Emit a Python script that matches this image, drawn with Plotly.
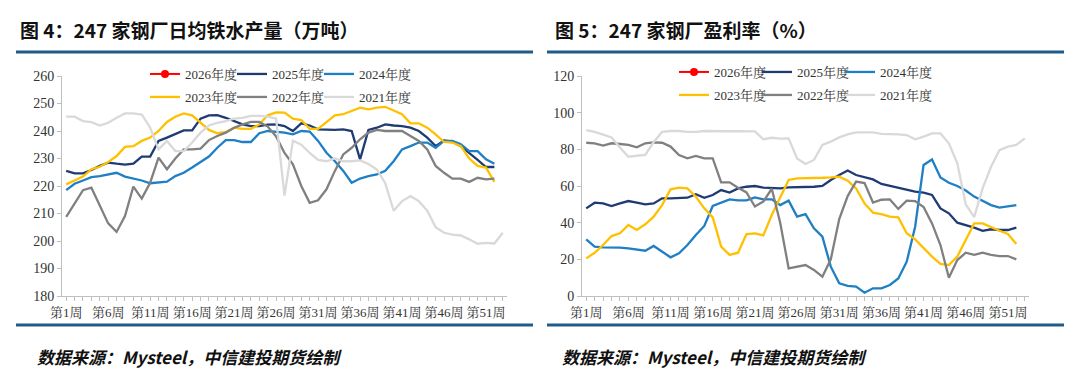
import plotly.graph_objects as go

weeks = list(range(1, 54))
week_ticktext = [f"第{w}周" if (w - 1) % 5 == 0 else "" for w in weeks]

series_names = ["2026年度", "2025年度", "2024年度", "2023年度", "2022年度", "2021年度"]

# 图4: 247家钢厂日均铁水产量（万吨）
iron_2026 = [None]
iron_2025 = [225.5, 224.6, 224.6, 225.8, 227.3, 228.5, 228.1, 227.8, 228.1, 230.7,
             230.7, 236.4, 237.6, 238.8, 240.2, 240.2, 244.5, 245.7, 245.8, 244.8,
             243.6, 242.4, 241.8, 241.8, 242.3, 242.4, 241.8, 240.0, 242.8, 242.0,
             240.6, 240.4, 240.4, 240.6, 240.0, 229.7, 240.4, 241.2, 242.4, 242.0,
             241.8, 241.2, 240.0, 237.6, 234.5, 236.6, 236.1, 234.5, 232.1, 229.5,
             226.9, 226.9]
iron_2024 = [218.5, 220.8, 222.0, 223.2, 223.6, 224.2, 224.8, 223.4, 222.7, 222.0,
             221.0, 221.2, 221.6, 223.6, 224.8, 226.7, 228.7, 230.7, 233.9, 236.7,
             236.7, 236.0, 236.0, 239.2, 240.0, 239.7, 239.4, 238.8, 240.0, 239.8,
             236.4, 232.1, 229.0, 225.5, 221.2, 222.7, 223.6, 224.2, 225.5, 229.0,
             233.3, 234.5, 235.8, 235.8, 233.9, 236.4, 236.4, 235.2, 232.7, 232.7,
             229.7, 228.1]
iron_2023 = [220.6, 222.0, 223.4, 226.1, 227.0, 228.7, 230.9, 234.2, 234.5, 236.4,
             237.6, 240.0, 243.3, 245.2, 246.4, 245.7, 243.0, 240.4, 239.2, 239.6,
             241.2, 240.8, 240.8, 242.4, 245.7, 246.8, 246.7, 244.5, 244.0, 240.8,
             240.8, 243.3, 245.7, 246.1, 247.3, 248.5, 247.9, 248.5, 248.8, 247.3,
             246.1, 242.8, 242.8, 241.2, 238.8, 236.0, 235.8, 234.5, 230.0, 227.3,
             226.7, 221.5]
iron_2022 = [208.8, 213.9, 218.5, 219.4, 212.7, 206.4, 203.3, 209.1, 219.8, 215.4,
             221.2, 230.3, 226.1, 230.0, 233.3, 233.3, 233.6, 236.7, 238.2, 239.4,
             241.2, 242.4, 243.3, 243.3, 241.6, 238.0, 232.0, 227.9, 220.0, 213.9,
             214.8, 218.8, 225.5, 231.5, 233.9, 237.0, 239.4, 240.4, 240.0, 240.0,
             240.0, 238.2, 236.4, 233.3, 227.3, 224.8, 222.7, 222.7, 221.5, 223.0,
             222.4, 222.7]
iron_2021 = [245.2, 245.2, 243.6, 243.2, 242.0, 243.0, 244.8, 246.4, 246.4, 246.0,
             241.2, 233.3, 236.4, 232.7, 232.7, 235.8, 239.4, 242.0, 243.0, 243.6,
             244.5, 244.8, 245.5, 245.5, 245.2, 244.5, 216.5, 236.5, 235.0, 232.0,
             229.5, 229.0, 230.0, 229.0, 229.0, 229.3, 228.0, 226.0, 221.0, 211.0,
             214.5, 216.3, 214.5, 211.0, 205.0, 203.0, 202.3, 202.0, 200.6, 199.0,
             199.3, 199.1, 203.0]

# 图5: 247家钢厂盈利率（%）
profit_2026 = [None]
profit_2025 = [47.8, 50.9, 50.5, 49.1, 50.5, 51.8, 50.9, 50.0, 50.5, 53.3,
               53.3, 53.3, 53.6, 55.5, 53.6, 55.1, 57.8, 56.4, 58.7, 59.6,
               60.0, 59.1, 58.7, 58.7, 59.3, 59.3, 59.6, 59.6, 60.0, 63.3,
               66.0, 68.4, 66.0, 64.7, 63.6, 61.1, 60.0, 58.7, 57.8, 56.9,
               56.4, 55.1, 47.8, 45.1, 40.0, 38.7, 37.3, 35.5, 36.4, 36.0,
               36.0, 37.3]
profit_2024 = [30.9, 26.9, 26.5, 26.5, 26.4, 26.0, 25.5, 24.7, 27.3, 24.2,
               21.1, 23.3, 27.8, 33.3, 38.2, 49.1, 50.9, 52.7, 52.2, 52.2,
               53.8, 52.7, 52.7, 49.6, 52.0, 43.3, 44.7, 36.9, 32.4, 16.0,
               6.9, 5.5, 5.1, 1.8, 4.2, 4.2, 6.0, 9.6, 18.7, 37.8,
               71.5, 74.5, 64.7, 61.8, 60.0, 57.5, 54.2, 51.8, 49.6, 48.2,
               48.7, 49.6]
profit_2023 = [20.5, 23.6, 27.8, 32.7, 34.2, 38.7, 36.0, 39.1, 43.3, 49.6,
               58.2, 59.1, 58.7, 54.2, 47.8, 42.9, 26.9, 22.4, 23.6, 33.8,
               34.2, 33.1, 44.2, 54.2, 63.3, 64.2, 64.2, 64.2, 64.5, 64.7,
               65.1, 62.9, 58.7, 50.5, 45.5, 44.7, 43.3, 42.9, 34.2, 30.9,
               26.0, 21.5, 17.5, 16.9, 21.5, 30.5, 39.6, 39.6, 37.5, 35.6,
               33.8, 28.4]
profit_2022 = [83.6, 83.3, 82.0, 83.3, 82.9, 82.4, 81.1, 83.3, 83.8, 83.6,
               81.5, 76.9, 75.1, 76.4, 75.1, 75.1, 62.0, 62.0, 59.0, 56.5,
               48.8, 51.5, 58.5, 40.0, 15.1, 16.0, 16.9, 14.2, 10.5, 20.0,
               42.0, 54.5, 62.4, 61.6, 51.0, 52.5, 52.7, 47.5, 52.0, 51.8,
               48.5, 39.6, 27.8, 10.0, 19.6, 23.6, 22.4, 23.6, 22.4, 21.8,
               21.8, 20.0]
profit_2021 = [90.5, 89.5, 88.0, 86.5, 81.0, 76.0, 76.5, 77.0, 84.0, 89.5,
               90.0, 90.0, 89.5, 89.5, 90.0, 90.0, 89.8, 89.8, 89.8, 89.8,
               89.8, 85.5, 86.3, 85.8, 86.0, 75.0, 72.0, 74.2, 82.4, 84.2,
               86.5, 88.2, 89.3, 89.3, 89.3, 88.4, 88.4, 88.2, 87.8, 85.5,
               86.9, 88.7, 88.7, 83.3, 72.4, 50.0, 43.0, 58.7, 70.5, 79.6,
               81.5, 82.4, 86.0]

colors = ["#ff0000", "#1f3b73", "#1f7fc4", "#ffc000", "#808080", "#d9d9d9"]

W, H = 1080, 391
SERIF = "Liberation Serif, Noto Serif CJK SC, Noto Sans CJK SC, serif"
CJK = "Noto Sans CJK SC, sans-serif"

fig = go.Figure()

panels = [
    ("x", "y", [iron_2026, iron_2025, iron_2024, iron_2023, iron_2022, iron_2021], ("legend", "legend2")),
    ("x2", "y2", [profit_2026, profit_2025, profit_2024, profit_2023, profit_2022, profit_2021], ("legend3", "legend4")),
]

for xa, ya, data, (lg1, lg2) in panels:
    for i, (name, vals, col) in enumerate(zip(series_names, data, colors)):
        lg = lg1 if i < 3 else lg2
        extra = {}
        if i in (2, 5):
            extra["legendwidth"] = 62
        if i == 0:
            fig.add_trace(go.Scatter(
                x=weeks[:len(vals)], y=vals, name=name, mode="lines+markers",
                line=dict(color=col, width=2), marker=dict(color=col, size=8),
                xaxis=xa, yaxis=ya, legend=lg, **extra))
        else:
            fig.add_trace(go.Scatter(
                x=weeks[:len(vals)], y=vals, name=name, mode="lines",
                line=dict(color=col, width=2.3),
                xaxis=xa, yaxis=ya, legend=lg, **extra))

def px_x(p):
    return p / W

def px_y(p):
    return 1 - p / H

axis_common = dict(
    showgrid=False, zeroline=False, showline=True, linecolor="#bfbfbf", linewidth=1,
    ticks="outside", ticklen=4, tickcolor="#bfbfbf", automargin=False,
    tickfont=dict(family=SERIF, size=13, color="#333333"),
)

xcommon = dict(axis_common, tickmode="array", tickvals=weeks, ticktext=week_ticktext,
               range=[0.5, 53.5], tickangle=0)

fig.update_layout(
    template="none",
    width=W, height=H, autosize=False,
    margin=dict(l=0, r=0, t=0, b=0, pad=0),
    paper_bgcolor="white", plot_bgcolor="white",
    xaxis=dict(xcommon, domain=[px_x(62), px_x(507)], anchor="y"),
    yaxis=dict(axis_common, domain=[px_y(296), px_y(76)], anchor="x",
               range=[180, 260], tickvals=[180, 190, 200, 210, 220, 230, 240, 250, 260],
               tickfont=dict(family=SERIF, size=14, color="#333333")),
    xaxis2=dict(xcommon, domain=[px_x(582), px_x(1029)], anchor="y2"),
    yaxis2=dict(axis_common, domain=[px_y(296), px_y(76)], anchor="x2",
                range=[0, 120], tickvals=[0, 20, 40, 60, 80, 100, 120],
                tickfont=dict(family=SERIF, size=14, color="#333333")),
    showlegend=True,
)

leg_common = dict(orientation="h", bgcolor="rgba(0,0,0,0)", borderwidth=0,
                  font=dict(family=SERIF, size=13, color="#333333"),
                  entrywidthmode="pixels", xanchor="left", yanchor="middle",
                  itemclick=False, itemdoubleclick=False, tracegroupgap=0)
fig.update_layout(
    legend=dict(leg_common, x=px_x(145), y=px_y(74), entrywidth=42),
    legend2=dict(leg_common, x=px_x(145), y=px_y(97), entrywidth=42),
    legend3=dict(leg_common, x=px_x(674), y=px_y(72), entrywidth=38),
    legend4=dict(leg_common, x=px_x(674), y=px_y(95), entrywidth=38),
)

# titles
fig.add_annotation(text="<b>图 4：247 家钢厂日均铁水产量（万吨）</b>", x=px_x(18), y=px_y(30),
                   xref="paper", yref="paper", xanchor="left", yanchor="middle", showarrow=False,
                   font=dict(family=CJK, size=19, color="#111111"))
fig.add_annotation(text="<b>图 5：247 家钢厂盈利率（%）</b>", x=px_x(553), y=px_y(30),
                   xref="paper", yref="paper", xanchor="left", yanchor="middle", showarrow=False,
                   font=dict(family=CJK, size=19, color="#111111"))

# footnotes
for fx in (35, 560):
    fig.add_annotation(text="<b><i>数据来源：Mysteel，中信建投期货绘制</i></b>", x=px_x(fx), y=px_y(356),
                       xref="paper", yref="paper", xanchor="left", yanchor="middle", showarrow=False,
                       font=dict(family=CJK, size=17, color="#111111"))

# separator lines
line_col = "#1f5c8c"
for (x0, x1) in ((16, 533), (547, 1064)):
    for yy in (52, 325):
        fig.add_shape(type="line", xref="paper", yref="paper",
                      x0=px_x(x0), x1=px_x(x1), y0=px_y(yy), y1=px_y(yy),
                      line=dict(color=line_col, width=3))

fig.write_html(
    "out.html",
    config={"displayModeBar": False, "staticPlot": False},
    post_script="document.body.style.margin='0';document.body.style.padding='0';document.body.style.overflow='hidden';",
)
